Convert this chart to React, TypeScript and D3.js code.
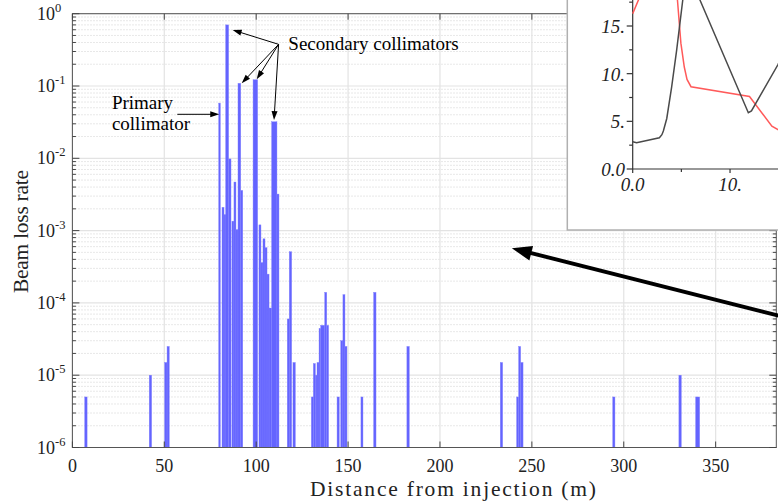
import React from "react";
import * as d3 from "d3";

const W = 778;
const H = 502;

// Histogram bins: start (m), end (m), loss rate
const binStart = [6.7, 41.8, 50.2, 51.5, 79.6, 81.4, 82.5, 83.4, 85.0, 86.8, 87.9, 89.0, 90.1, 91.6, 98.3, 101.5, 102.6, 103.7, 104.8, 105.9, 107.0, 108.4, 111.3, 116.9, 118.0, 120.0, 130.0, 131.1, 132.2, 133.1, 134.2, 135.1, 137.3, 138.4, 144.0, 146.0, 147.2, 148.3, 157.0, 163.9, 182.0, 232.8, 241.7, 242.8, 243.9, 294.0, 330.0, 339.1];
const binEnd = [8.0, 43.1, 51.5, 52.7, 80.5, 82.5, 83.6, 85.0, 86.3, 87.9, 89.0, 90.1, 91.6, 92.7, 100.8, 102.6, 103.7, 104.8, 105.9, 107.0, 108.4, 111.3, 112.4, 118.0, 119.3, 121.3, 131.1, 132.2, 133.1, 134.2, 135.1, 137.3, 138.4, 139.4, 145.2, 147.2, 148.3, 149.4, 158.1, 165.2, 183.3, 234.1, 242.8, 243.9, 245.2, 295.2, 331.3, 341.3];
const lossRate = [5e-6, 1e-5, 1.5e-5, 2.5e-5, 0.058, 0.0021, 0.00166, 0.7, 0.0098, 0.00135, 0.0047, 0.00103, 0.109, 0.0036, 0.122, 0.0012, 0.00036, 0.00077, 0.00058, 0.00025, 8.5e-5, 0.032, 0.0032, 6e-5, 0.00051, 1.5e-5, 5e-6, 1.45e-5, 1e-5, 1.5e-5, 4.4e-5, 4.9e-5, 1.4e-4, 4.9e-5, 5e-6, 3e-5, 1.3e-4, 2.5e-5, 5e-6, 1.4e-4, 2.5e-5, 1.5e-5, 5e-6, 2.5e-5, 1.5e-5, 5e-6, 1e-5, 5e-6];

const xTicks = [0, 50, 100, 150, 200, 250, 300, 350];
const yExponents = [0, -1, -2, -3, -4, -5, -6];
const xLabel = "Distance from injection (m)";
const yLabel = "Beam loss rate";

// Annotations (data coordinates)
const primaryText = ["Primary", "collimator"];
const primaryTextPos = [21.5, 0.0475];
const primaryArrowFrom = [57.1, 0.0406];
const primaryArrowTo = [79.9, 0.0406];
const secondaryText = "Secondary collimators";
const secondaryTextPos = [117.5, 0.315];
const secondaryFrom = [112.2, 0.377];
const secondaryTipX = [87.2, 92.1, 100.3, 109.7];
const secondaryTipY = [0.595, 0.109, 0.124, 0.0338];
const bigArrowFrom = [396, 5.6e-5];
const bigArrowTo = [239.1, 5.7e-4];

// Inset
const insetXTicks = [0, 10];
const insetXTickLabels = ["0.0", "10."];
const insetYTicks = [0, 5, 10, 15];
const insetYTickLabels = ["0.0", "5.", "10.", "15."];
const insetRedX = [0, 0.58, 1.5, 3.0, 4.3, 4.6, 4.95, 5.3, 5.58, 5.99, 12.0, 14.3, 15.3];
const insetRedY = [16.3, 17.7, 19.8, 20.5, 19.5, 17.7, 13.2, 10.7, 9.4, 8.63, 7.6, 4.5, 3.9];
const insetBlackX = [0, 0.4, 2.74, 3.0, 3.15, 3.5, 4.0, 4.52, 5.14, 5.56, 6.92, 11.88, 12.2, 14.9, 15.5];
const insetBlackY = [2.86, 2.76, 3.28, 3.6, 3.98, 5.3, 8.6, 12.5, 17.7, 21.0, 17.7, 5.9, 6.1, 10.9, 12.2];

const FONT = "'Liberation Serif', 'Times New Roman', serif";

function arrowHead(x1: number, y1: number, x2: number, y2: number, len: number, wid: number) {
  const a = Math.atan2(y2 - y1, x2 - x1);
  const bx = x2 - len * Math.cos(a);
  const by = y2 - len * Math.sin(a);
  const px = -Math.sin(a) * wid / 2;
  const py = Math.cos(a) * wid / 2;
  return `M${x2},${y2}L${bx + px},${by + py}L${bx - px},${by - py}Z`;
}

export default function App() {
  const x = d3.scaleLinear().domain([0, 383]).range([72.4, 776.3]);
  const y = d3.scaleLog().domain([1e-6, 1]).range([447.5, 13.7]);
  const [x0, x1] = x.range();
  const [yb, yt] = y.range();

  const minorVals: number[] = [];
  for (let d = -6; d < 0; d++) for (let k = 2; k <= 9; k++) minorVals.push(k * Math.pow(10, d));

  const bars = binStart.map((s, i) => ({ s, e: binEnd[i], v: lossRate[i] }));

  // inset scales
  const xi = d3.scaleLinear().domain([0, 15]).range([632.7, 778.7]);
  const yi = d3.scaleLinear().domain([0, 15]).range([169, 26]);
  const line = d3.line<[number, number]>().x((d) => xi(d[0])).y((d) => yi(d[1]));
  const redPts = insetRedX.map((v, i) => [v, insetRedY[i]] as [number, number]);
  const blackPts = insetBlackX.map((v, i) => [v, insetBlackY[i]] as [number, number]);

  const sx = x(secondaryFrom[0]);
  const sy = y(secondaryFrom[1]);

  const bx1 = x(bigArrowFrom[0]);
  const by1 = y(bigArrowFrom[1]);
  const bx2 = x(bigArrowTo[0]);
  const by2 = y(bigArrowTo[1]);
  const bang = Math.atan2(by2 - by1, bx2 - bx1);
  const bigLen = 20;

  return (
    <div style={{ position: "absolute", left: 0, top: 0 }}>
      <svg width={W} height={H} style={{ display: "block", background: "#fff" }} fontFamily={FONT}>
        {/* minor horizontal grid */}
        {minorVals.map((v, i) => (
          <line key={"mg" + i} x1={x0} x2={x1} y1={y(v)} y2={y(v)} stroke="#cfcfcf" strokeWidth={0.8} strokeDasharray="1.2,1.8" />
        ))}
        {/* major grid */}
        {yExponents.map((e) => (
          <line key={"yg" + e} x1={x0} x2={x1} y1={y(Math.pow(10, e))} y2={y(Math.pow(10, e))} stroke="#e3e3e3" strokeWidth={1.2} />
        ))}
        {xTicks.map((t) => (
          <line key={"xg" + t} x1={x(t)} x2={x(t)} y1={yb} y2={yt} stroke="#e3e3e3" strokeWidth={1.2} />
        ))}
        {/* bars */}
        {bars.map((b, i) => (
          <rect key={"b" + i} x={x(b.s)} width={x(b.e) - x(b.s)} y={y(b.v)} height={yb - y(b.v)} fill="#6464ff" stroke="#8080ff" strokeWidth={0.4} />
        ))}
        {/* frame */}
        <rect x={x0} y={yt} width={x1 - x0} height={yb - yt} fill="none" stroke="#555" strokeWidth={1} />
        {/* ticks */}
        {xTicks.map((t) => (
          <g key={"xt" + t}>
            <line x1={x(t)} x2={x(t)} y1={yb} y2={yb - 6} stroke="#444" />
            <line x1={x(t)} x2={x(t)} y1={yt} y2={yt + 6} stroke="#444" />
            <text x={x(t)} y={472} textAnchor="middle" fontSize={18} fill="#222">{t}</text>
          </g>
        ))}
        {yExponents.map((e) => (
          <g key={"yt" + e}>
            <line x1={x0} x2={x0 + 7} y1={y(Math.pow(10, e))} y2={y(Math.pow(10, e))} stroke="#444" />
            <line x1={x1} x2={x1 - 7} y1={y(Math.pow(10, e))} y2={y(Math.pow(10, e))} stroke="#444" />
            <text x={37} y={y(Math.pow(10, e)) + 6} fontSize={18} fill="#222">
              10
              <tspan dy={-8} fontSize={12.5}>{e}</tspan>
            </text>
          </g>
        ))}
        {minorVals.map((v, i) => (
          <g key={"mt" + i}>
            <line x1={x0} x2={x0 + 3.5} y1={y(v)} y2={y(v)} stroke="#444" />
            <line x1={x1} x2={x1 - 3.5} y1={y(v)} y2={y(v)} stroke="#444" />
          </g>
        ))}
        {/* axis labels */}
        <text x={453} y={496} textAnchor="middle" fontSize={21.5} fill="#222" textLength={286} lengthAdjust="spacing">{xLabel}</text>
        <text transform={`translate(28,${231.5}) rotate(-90)`} textAnchor="middle" fontSize={21.5} fill="#222" textLength={123} lengthAdjust="spacing">{yLabel}</text>

        {/* primary collimator annotation */}
        <text x={x(primaryTextPos[0])} y={y(primaryTextPos[1])} fontSize={19} fill="#000">{primaryText[0]}</text>
        <text x={x(primaryTextPos[0])} y={y(primaryTextPos[1]) + 21} fontSize={19} fill="#000">{primaryText[1]}</text>
        <line x1={x(primaryArrowFrom[0])} y1={y(primaryArrowFrom[1])} x2={x(primaryArrowTo[0]) - 6} y2={y(primaryArrowTo[1])} stroke="#000" strokeWidth={1} />
        <path d={arrowHead(x(primaryArrowFrom[0]), y(primaryArrowFrom[1]), x(primaryArrowTo[0]), y(primaryArrowTo[1]), 9, 6)} fill="#000" />

        {/* secondary collimators annotation */}
        <text x={x(secondaryTextPos[0])} y={y(secondaryTextPos[1])} fontSize={19} fill="#000">{secondaryText}</text>
        {secondaryTipX.map((tx, i) => {
          const ex = x(tx);
          const ey = y(secondaryTipY[i]);
          const a = Math.atan2(ey - sy, ex - sx);
          return (
            <g key={"sa" + i}>
              <line x1={sx} y1={sy} x2={ex - 6 * Math.cos(a)} y2={ey - 6 * Math.sin(a)} stroke="#000" strokeWidth={1} />
              <path d={arrowHead(sx, sy, ex, ey, 9, 6)} fill="#000" />
            </g>
          );
        })}

        {/* inset */}
        <rect x={567.3} y={-10} width={260} height={240} fill="#fff" stroke="#b0b0b0" strokeWidth={1.5} />
        <line x1={xi(0)} x2={xi(0)} y1={yi(0)} y2={-5} stroke="#333" strokeWidth={1.2} />
        <line x1={xi(0)} x2={W + 5} y1={yi(0)} y2={yi(0)} stroke="#333" strokeWidth={1.2} />
        {insetYTicks.map((t, i) => (
          <g key={"iy" + t}>
            <line x1={xi(0) - 6} x2={xi(0)} y1={yi(t)} y2={yi(t)} stroke="#333" strokeWidth={1.2} />
            <line x1={xi(0) - 3.5} x2={xi(0)} y1={yi(t + 2.5)} y2={yi(t + 2.5)} stroke="#333" strokeWidth={1.2} />
            <text x={625} y={yi(t) + 7} textAnchor="end" fontSize={19} fontStyle="italic" fill="#222">{insetYTickLabels[i]}</text>
          </g>
        ))}
        {insetXTicks.map((t, i) => (
          <g key={"ix" + t}>
            <line x1={xi(t)} x2={xi(t)} y1={yi(0)} y2={yi(0) + 4} stroke="#333" strokeWidth={1.2} />
            <line x1={xi(t + 5)} x2={xi(t + 5)} y1={yi(0)} y2={yi(0) + 3} stroke="#333" strokeWidth={1.2} />
            <text x={xi(t)} y={191} textAnchor="middle" fontSize={19} fontStyle="italic" fill="#222">{insetXTickLabels[i]}</text>
          </g>
        ))}
        <path d={line(redPts) || ""} fill="none" stroke="#ff5a5a" strokeWidth={1.5} />
        <path d={line(blackPts) || ""} fill="none" stroke="#4a4a4a" strokeWidth={1.5} />

        {/* big arrow */}
        <line x1={bx1} y1={by1} x2={bx2 - bigLen * 0.8 * Math.cos(bang)} y2={by2 - bigLen * 0.8 * Math.sin(bang)} stroke="#000" strokeWidth={4} />
        <path d={arrowHead(bx1, by1, bx2, by2, bigLen, 15)} fill="#000" />
      </svg>
    </div>
  );
}
